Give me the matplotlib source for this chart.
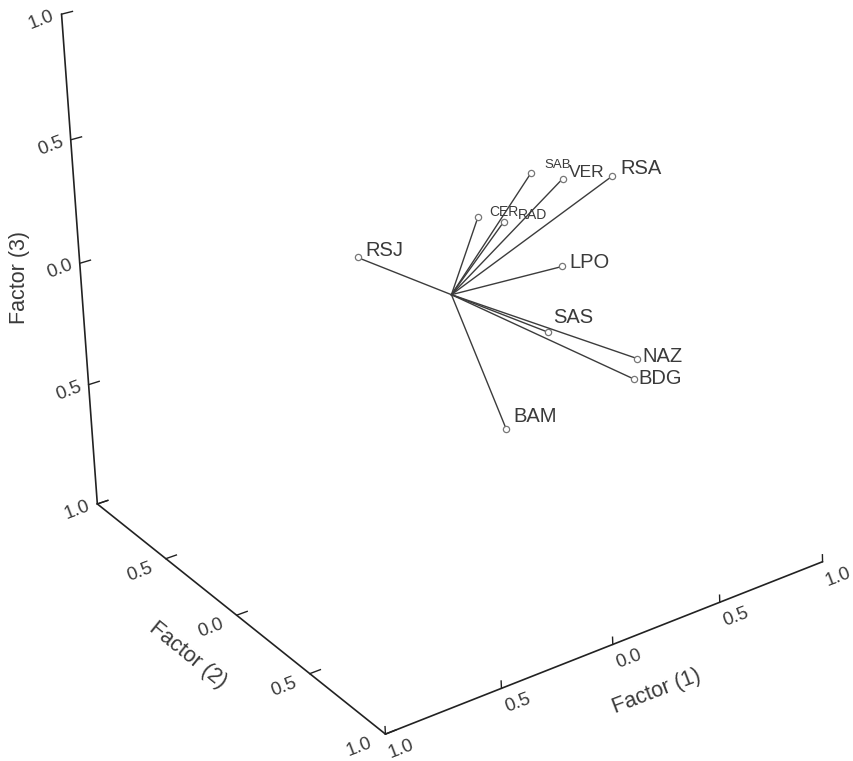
import numpy as np
import matplotlib
matplotlib.use('Agg')
from matplotlib import pyplot as plt

plt.rcParams['font.family'] = ['Liberation Sans', 'DejaVu Sans']

# component loadings (factor 1, factor 2, factor 3)
names = ['RSJ', 'CER', 'SAB', 'RAD', 'VER', 'RSA', 'LPO', 'SAS', 'NAZ', 'BDG', 'BAM']
factor1 = [-0.28, 0.07, 0.25, 0.25, 0.46, 0.76, 0.51, 0.30, 0.64, 0.62, -0.04]
factor2 = [-0.20, 0.10, 0.20, 0.00, 0.10, 0.00, 0.00, 0.20, 0.30, 0.30, 0.40]
factor3 = [0.15, 0.34, 0.51, 0.23, 0.39, 0.28, -0.03, -0.16, -0.33, -0.41, -0.37]

tick_values = [-1.0, -0.5, 0.0, 0.5, 1.0]
tick_labels = ['1.0', '0.5', '0.0', '0.5', '1.0']   # the scan drops the minus signs

# camera of the oblique view (3d box -> figure pixels)
CAM = np.array([[239.25, 133.035, -19.1295, 451.441],
                [-59.1763, 92.5248, -247.541, 294.693],
                [0.0396846, -0.0322578, -0.0172511, 1.0]])


def proj(x, y, z):
    h = CAM @ np.array([x, y, z, 1.0])
    return h[0] / h[2], h[1] / h[2]


fig = plt.figure(figsize=(8.54, 7.61), dpi=100)
ax = fig.add_axes([0, 0, 1, 1])
ax.set_xlim(0, 854)
ax.set_ylim(761, 0)
ax.axis('off')

axis_col = '#222222'
text_col = '#3a3a3a'

# box edges used as axes
edges = [((-1, 1, -1), (1, 1, -1)),     # factor 1
         ((-1, -1, -1), (-1, 1, -1)),   # factor 2
         ((-1, -1, -1), (-1, -1, 1))]   # factor 3
for a, b in edges:
    pa, pb = proj(*a), proj(*b)
    ax.plot([pa[0], pb[0]], [pa[1], pb[1]], color=axis_col, lw=1.2, solid_capstyle='round')

# ticks and tick labels
for t, lab in zip(tick_values, tick_labels):
    # factor 1: ticks pointing up
    p0 = proj(t, 1, -1); p1 = proj(t, 1, -0.97)
    ax.plot([p0[0], p1[0]], [p0[1], p1[1]], color=axis_col, lw=1.0)
    ax.text(p0[0] + 16, p0[1] + 15, lab, rotation=21, ha='center', va='center',
            fontsize=13.5, color=text_col)
    # factor 2: ticks pointing right
    p0 = proj(-1, t, -1); p1 = proj(-0.955, t, -1)
    ax.plot([p0[0], p1[0]], [p0[1], p1[1]], color=axis_col, lw=1.0)
    if t > -1:
        ax.text(p0[0] - 26, p0[1] + 13, lab, rotation=21, ha='center', va='center',
                fontsize=13.5, color=text_col)
    # factor 3: ticks pointing right
    p0 = proj(-1, -1, t); p1 = proj(-0.955, -1, t)
    ax.plot([p0[0], p1[0]], [p0[1], p1[1]], color=axis_col, lw=1.0)
    ax.text(p0[0] - 20, p0[1] + 6, lab, rotation=21, ha='center', va='center',
            fontsize=13.5, color=text_col)

ax.text(657, 692, 'Factor (1)', rotation=21, ha='center', va='center', fontsize=15.5, color=text_col)
ax.text(188, 655, 'Factor (2)', rotation=-39, ha='center', va='center', fontsize=15.5, color=text_col)
ax.text(20, 278, 'Factor (3)', rotation=90, ha='center', va='center', fontsize=15.5, color=text_col)

# loading vectors
label_offset = {'RSJ': (8, -7), 'CER': (11, -5), 'SAB': (13, -8), 'RAD': (14, -7),
                'VER': (6, -6), 'RSA': (8, -7), 'LPO': (7, -4), 'SAS': (5, -15),
                'NAZ': (5, -2), 'BDG': (5, 0), 'BAM': (7, -13)}
label_size = {'SAB': 9.5, 'CER': 10, 'RAD': 10, 'VER': 12.5}
ox, oy = proj(0, 0, 0)
for n, f1, f2, f3 in zip(names, factor1, factor2, factor3):
    px, py = proj(f1, f2, f3)
    ax.plot([ox, px], [oy, py], color='#3c3c3c', lw=1.0)
    ax.plot(px, py, 'o', ms=4.5, mfc='white', mec='#777777', mew=0.9)
    dx, dy = label_offset[n]
    ax.text(px + dx, py + dy, n, ha='left', va='center',
            fontsize=label_size.get(n, 14.5), color=text_col)

fig.savefig('out.png')
